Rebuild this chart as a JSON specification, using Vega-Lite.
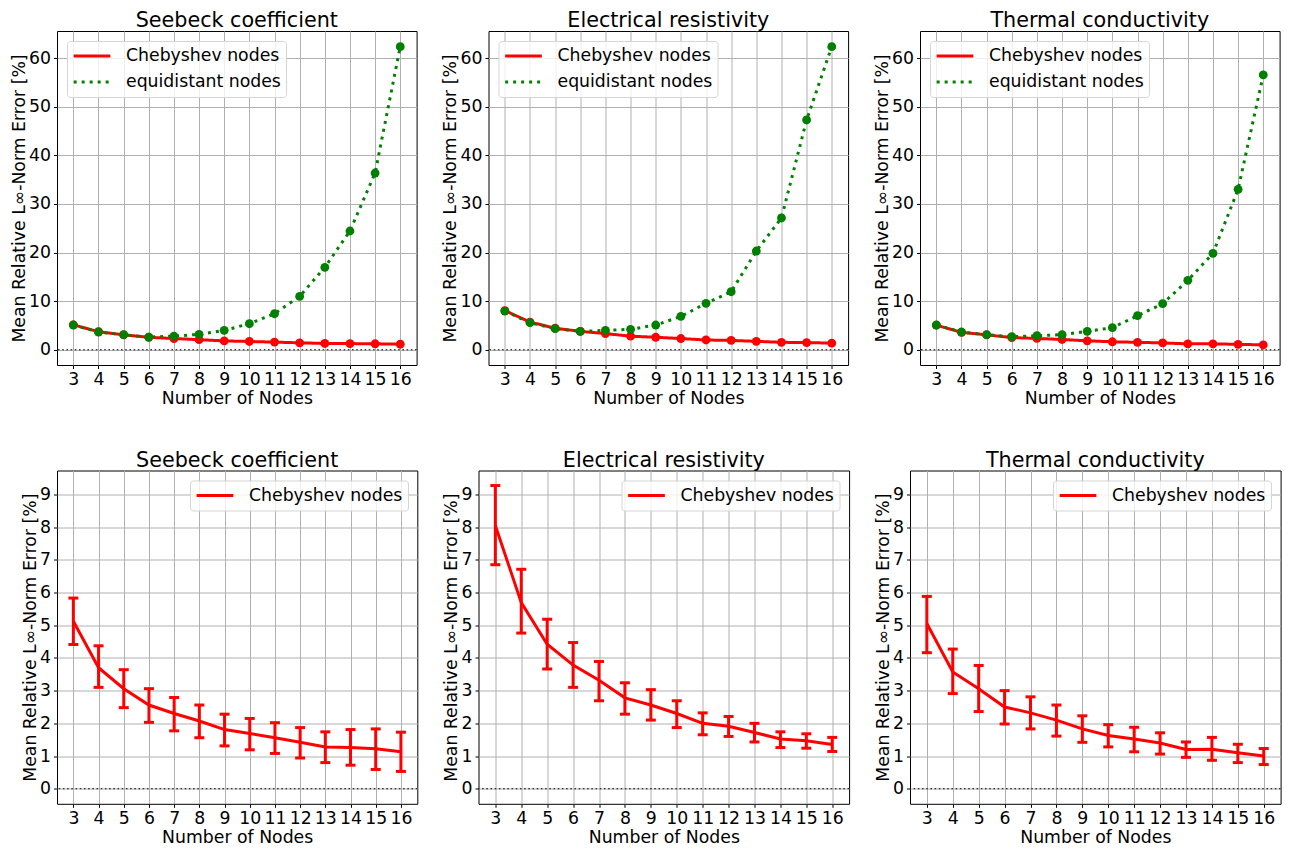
{
  "$schema": "https://vega.github.io/schema/vega-lite/v6.json",
  "padding": {"left": 9, "top": 9, "right": 5, "bottom": 5},
  "background": "white",
  "datasets": {
    "d": [
      {"p":"S","n":3,"s":"Chebyshev nodes","v":5.12,"lo":4.41,"hi":5.83},
      {"p":"S","n":4,"s":"Chebyshev nodes","v":3.70,"lo":3.10,"hi":4.37},
      {"p":"S","n":5,"s":"Chebyshev nodes","v":3.06,"lo":2.48,"hi":3.64},
      {"p":"S","n":6,"s":"Chebyshev nodes","v":2.56,"lo":2.03,"hi":3.06},
      {"p":"S","n":7,"s":"Chebyshev nodes","v":2.30,"lo":1.77,"hi":2.79},
      {"p":"S","n":8,"s":"Chebyshev nodes","v":2.07,"lo":1.56,"hi":2.56},
      {"p":"S","n":9,"s":"Chebyshev nodes","v":1.81,"lo":1.31,"hi":2.28},
      {"p":"S","n":10,"s":"Chebyshev nodes","v":1.69,"lo":1.19,"hi":2.15},
      {"p":"S","n":11,"s":"Chebyshev nodes","v":1.56,"lo":1.08,"hi":2.02},
      {"p":"S","n":12,"s":"Chebyshev nodes","v":1.42,"lo":0.94,"hi":1.87},
      {"p":"S","n":13,"s":"Chebyshev nodes","v":1.28,"lo":0.80,"hi":1.74},
      {"p":"S","n":14,"s":"Chebyshev nodes","v":1.26,"lo":0.72,"hi":1.81},
      {"p":"S","n":15,"s":"Chebyshev nodes","v":1.22,"lo":0.59,"hi":1.83},
      {"p":"S","n":16,"s":"Chebyshev nodes","v":1.13,"lo":0.53,"hi":1.73},
      {"p":"S","n":3,"s":"equidistant nodes","v":5.08},
      {"p":"S","n":4,"s":"equidistant nodes","v":3.64},
      {"p":"S","n":5,"s":"equidistant nodes","v":3.09},
      {"p":"S","n":6,"s":"equidistant nodes","v":2.60},
      {"p":"S","n":7,"s":"equidistant nodes","v":2.80},
      {"p":"S","n":8,"s":"equidistant nodes","v":3.16},
      {"p":"S","n":9,"s":"equidistant nodes","v":3.98},
      {"p":"S","n":10,"s":"equidistant nodes","v":5.35},
      {"p":"S","n":11,"s":"equidistant nodes","v":7.41},
      {"p":"S","n":12,"s":"equidistant nodes","v":10.98},
      {"p":"S","n":13,"s":"equidistant nodes","v":16.96},
      {"p":"S","n":14,"s":"equidistant nodes","v":24.44},
      {"p":"S","n":15,"s":"equidistant nodes","v":36.38},
      {"p":"S","n":16,"s":"equidistant nodes","v":62.4},
      {"p":"E","n":3,"s":"Chebyshev nodes","v":8.05,"lo":6.85,"hi":9.27},
      {"p":"E","n":4,"s":"Chebyshev nodes","v":5.69,"lo":4.76,"hi":6.71},
      {"p":"E","n":5,"s":"Chebyshev nodes","v":4.42,"lo":3.66,"hi":5.18},
      {"p":"E","n":6,"s":"Chebyshev nodes","v":3.78,"lo":3.10,"hi":4.47},
      {"p":"E","n":7,"s":"Chebyshev nodes","v":3.32,"lo":2.69,"hi":3.89},
      {"p":"E","n":8,"s":"Chebyshev nodes","v":2.78,"lo":2.28,"hi":3.24},
      {"p":"E","n":9,"s":"Chebyshev nodes","v":2.56,"lo":2.10,"hi":3.03},
      {"p":"E","n":10,"s":"Chebyshev nodes","v":2.30,"lo":1.87,"hi":2.69},
      {"p":"E","n":11,"s":"Chebyshev nodes","v":2.00,"lo":1.65,"hi":2.32},
      {"p":"E","n":12,"s":"Chebyshev nodes","v":1.91,"lo":1.60,"hi":2.21},
      {"p":"E","n":13,"s":"Chebyshev nodes","v":1.72,"lo":1.43,"hi":2.00},
      {"p":"E","n":14,"s":"Chebyshev nodes","v":1.52,"lo":1.26,"hi":1.74},
      {"p":"E","n":15,"s":"Chebyshev nodes","v":1.47,"lo":1.24,"hi":1.68},
      {"p":"E","n":16,"s":"Chebyshev nodes","v":1.35,"lo":1.14,"hi":1.57},
      {"p":"E","n":3,"s":"equidistant nodes","v":7.96},
      {"p":"E","n":4,"s":"equidistant nodes","v":5.56},
      {"p":"E","n":5,"s":"equidistant nodes","v":4.32},
      {"p":"E","n":6,"s":"equidistant nodes","v":3.78},
      {"p":"E","n":7,"s":"equidistant nodes","v":3.98},
      {"p":"E","n":8,"s":"equidistant nodes","v":4.19},
      {"p":"E","n":9,"s":"equidistant nodes","v":5.08},
      {"p":"E","n":10,"s":"equidistant nodes","v":6.86},
      {"p":"E","n":11,"s":"equidistant nodes","v":9.54},
      {"p":"E","n":12,"s":"equidistant nodes","v":11.94},
      {"p":"E","n":13,"s":"equidistant nodes","v":20.32},
      {"p":"E","n":14,"s":"equidistant nodes","v":27.12},
      {"p":"E","n":15,"s":"equidistant nodes","v":47.3},
      {"p":"E","n":16,"s":"equidistant nodes","v":62.4},
      {"p":"T","n":3,"s":"Chebyshev nodes","v":5.05,"lo":4.16,"hi":5.88},
      {"p":"T","n":4,"s":"Chebyshev nodes","v":3.57,"lo":2.91,"hi":4.27},
      {"p":"T","n":5,"s":"Chebyshev nodes","v":3.06,"lo":2.36,"hi":3.77},
      {"p":"T","n":6,"s":"Chebyshev nodes","v":2.50,"lo":1.98,"hi":3.00},
      {"p":"T","n":7,"s":"Chebyshev nodes","v":2.32,"lo":1.83,"hi":2.81},
      {"p":"T","n":8,"s":"Chebyshev nodes","v":2.10,"lo":1.61,"hi":2.56},
      {"p":"T","n":9,"s":"Chebyshev nodes","v":1.83,"lo":1.42,"hi":2.23},
      {"p":"T","n":10,"s":"Chebyshev nodes","v":1.63,"lo":1.28,"hi":1.96},
      {"p":"T","n":11,"s":"Chebyshev nodes","v":1.52,"lo":1.13,"hi":1.88},
      {"p":"T","n":12,"s":"Chebyshev nodes","v":1.40,"lo":1.06,"hi":1.71},
      {"p":"T","n":13,"s":"Chebyshev nodes","v":1.20,"lo":0.96,"hi":1.43},
      {"p":"T","n":14,"s":"Chebyshev nodes","v":1.21,"lo":0.87,"hi":1.57},
      {"p":"T","n":15,"s":"Chebyshev nodes","v":1.10,"lo":0.80,"hi":1.36},
      {"p":"T","n":16,"s":"Chebyshev nodes","v":1.00,"lo":0.74,"hi":1.23},
      {"p":"T","n":3,"s":"equidistant nodes","v":5.08},
      {"p":"T","n":4,"s":"equidistant nodes","v":3.64},
      {"p":"T","n":5,"s":"equidistant nodes","v":3.09},
      {"p":"T","n":6,"s":"equidistant nodes","v":2.68},
      {"p":"T","n":7,"s":"equidistant nodes","v":2.88},
      {"p":"T","n":8,"s":"equidistant nodes","v":3.09},
      {"p":"T","n":9,"s":"equidistant nodes","v":3.78},
      {"p":"T","n":10,"s":"equidistant nodes","v":4.53},
      {"p":"T","n":11,"s":"equidistant nodes","v":7.00},
      {"p":"T","n":12,"s":"equidistant nodes","v":9.47},
      {"p":"T","n":13,"s":"equidistant nodes","v":14.28},
      {"p":"T","n":14,"s":"equidistant nodes","v":19.84},
      {"p":"T","n":15,"s":"equidistant nodes","v":33.02},
      {"p":"T","n":16,"s":"equidistant nodes","v":56.57}
    ]
  },
  "vconcat": [
    {
      "hconcat": [
        {
          "width": 359.6, "height": 334,
          "title": {"text": "Seebeck coefficient", "offset": -1},
          "layer": [
            {"data": {"values": [{"z": 0}]}, "mark": {"type": "rule", "color": "black", "strokeWidth": 1.1, "strokeDash": [1.6, 2.6]},
             "encoding": {"y": {"field": "z", "type": "quantitative", "title": "Mean Relative L∞-Norm Error [%]", "scale": {"domain": [-3.15, 65.62], "nice": false, "zero": false}, "axis": {"values": [0,10,20,30,40,50,60], "labelOverlap": false}}}},
            {"data": {"name": "d"}, "transform": [{"filter": "datum.p === 'S'"}], "mark": {"type": "line", "strokeWidth": 3},
             "encoding": {
               "x": {"field": "n", "type": "quantitative", "title": "Number of Nodes", "scale": {"domain": [2.35, 16.65], "nice": false, "zero": false}, "axis": {"values": [3,4,5,6,7,8,9,10,11,12,13,14,15,16], "labelOverlap": false}},
               "y": {"field": "v", "type": "quantitative", "title": "Mean Relative L∞-Norm Error [%]", "scale": {"domain": [-3.15, 65.62], "nice": false, "zero": false}, "axis": {"values": [0,10,20,30,40,50,60], "labelOverlap": false}},
               "color": {"field": "s", "type": "nominal", "scale": {"domain": ["Chebyshev nodes", "equidistant nodes"], "range": ["#ff0000", "#008000"]}, "legend": {"orient": "top-left"}},
               "strokeDash": {"field": "s", "type": "nominal", "scale": {"domain": ["Chebyshev nodes", "equidistant nodes"], "range": [[1, 0], [3, 5]]}, "legend": {"orient": "top-left"}}
             }},
            {"data": {"name": "d"}, "transform": [{"filter": "datum.p === 'S'"}], "mark": {"type": "point", "filled": true, "size": 78, "opacity": 1},
             "encoding": {
               "x": {"field": "n", "type": "quantitative", "title": "Number of Nodes", "scale": {"domain": [2.35, 16.65], "nice": false, "zero": false}, "axis": {"values": [3,4,5,6,7,8,9,10,11,12,13,14,15,16], "labelOverlap": false}},
               "y": {"field": "v", "type": "quantitative", "title": "Mean Relative L∞-Norm Error [%]", "scale": {"domain": [-3.15, 65.62], "nice": false, "zero": false}, "axis": {"values": [0,10,20,30,40,50,60], "labelOverlap": false}},
               "color": {"field": "s", "type": "nominal", "scale": {"domain": ["Chebyshev nodes", "equidistant nodes"], "range": ["#ff0000", "#008000"]}, "legend": {"orient": "top-left"}}
             }}
          ]
        },
        {
          "width": 359.6, "height": 334,
          "title": {"text": "Electrical resistivity", "offset": -1},
          "layer": [
            {"data": {"values": [{"z": 0}]}, "mark": {"type": "rule", "color": "black", "strokeWidth": 1.1, "strokeDash": [1.6, 2.6]},
             "encoding": {"y": {"field": "z", "type": "quantitative", "title": "Mean Relative L∞-Norm Error [%]", "scale": {"domain": [-3.15, 65.62], "nice": false, "zero": false}, "axis": {"values": [0,10,20,30,40,50,60], "labelOverlap": false}}}},
            {"data": {"name": "d"}, "transform": [{"filter": "datum.p === 'E'"}], "mark": {"type": "line", "strokeWidth": 3},
             "encoding": {
               "x": {"field": "n", "type": "quantitative", "title": "Number of Nodes", "scale": {"domain": [2.35, 16.65], "nice": false, "zero": false}, "axis": {"values": [3,4,5,6,7,8,9,10,11,12,13,14,15,16], "labelOverlap": false}},
               "y": {"field": "v", "type": "quantitative", "title": "Mean Relative L∞-Norm Error [%]", "scale": {"domain": [-3.15, 65.62], "nice": false, "zero": false}, "axis": {"values": [0,10,20,30,40,50,60], "labelOverlap": false}},
               "color": {"field": "s", "type": "nominal", "scale": {"domain": ["Chebyshev nodes", "equidistant nodes"], "range": ["#ff0000", "#008000"]}, "legend": {"orient": "top-left"}},
               "strokeDash": {"field": "s", "type": "nominal", "scale": {"domain": ["Chebyshev nodes", "equidistant nodes"], "range": [[1, 0], [3, 5]]}, "legend": {"orient": "top-left"}}
             }},
            {"data": {"name": "d"}, "transform": [{"filter": "datum.p === 'E'"}], "mark": {"type": "point", "filled": true, "size": 78, "opacity": 1},
             "encoding": {
               "x": {"field": "n", "type": "quantitative", "title": "Number of Nodes", "scale": {"domain": [2.35, 16.65], "nice": false, "zero": false}, "axis": {"values": [3,4,5,6,7,8,9,10,11,12,13,14,15,16], "labelOverlap": false}},
               "y": {"field": "v", "type": "quantitative", "title": "Mean Relative L∞-Norm Error [%]", "scale": {"domain": [-3.15, 65.62], "nice": false, "zero": false}, "axis": {"values": [0,10,20,30,40,50,60], "labelOverlap": false}},
               "color": {"field": "s", "type": "nominal", "scale": {"domain": ["Chebyshev nodes", "equidistant nodes"], "range": ["#ff0000", "#008000"]}, "legend": {"orient": "top-left"}}
             }}
          ]
        },
        {
          "width": 359.6, "height": 334,
          "title": {"text": "Thermal conductivity", "offset": -1},
          "layer": [
            {"data": {"values": [{"z": 0}]}, "mark": {"type": "rule", "color": "black", "strokeWidth": 1.1, "strokeDash": [1.6, 2.6]},
             "encoding": {"y": {"field": "z", "type": "quantitative", "title": "Mean Relative L∞-Norm Error [%]", "scale": {"domain": [-3.15, 65.62], "nice": false, "zero": false}, "axis": {"values": [0,10,20,30,40,50,60], "labelOverlap": false}}}},
            {"data": {"name": "d"}, "transform": [{"filter": "datum.p === 'T'"}], "mark": {"type": "line", "strokeWidth": 3},
             "encoding": {
               "x": {"field": "n", "type": "quantitative", "title": "Number of Nodes", "scale": {"domain": [2.35, 16.65], "nice": false, "zero": false}, "axis": {"values": [3,4,5,6,7,8,9,10,11,12,13,14,15,16], "labelOverlap": false}},
               "y": {"field": "v", "type": "quantitative", "title": "Mean Relative L∞-Norm Error [%]", "scale": {"domain": [-3.15, 65.62], "nice": false, "zero": false}, "axis": {"values": [0,10,20,30,40,50,60], "labelOverlap": false}},
               "color": {"field": "s", "type": "nominal", "scale": {"domain": ["Chebyshev nodes", "equidistant nodes"], "range": ["#ff0000", "#008000"]}, "legend": {"orient": "top-left"}},
               "strokeDash": {"field": "s", "type": "nominal", "scale": {"domain": ["Chebyshev nodes", "equidistant nodes"], "range": [[1, 0], [3, 5]]}, "legend": {"orient": "top-left"}}
             }},
            {"data": {"name": "d"}, "transform": [{"filter": "datum.p === 'T'"}], "mark": {"type": "point", "filled": true, "size": 78, "opacity": 1},
             "encoding": {
               "x": {"field": "n", "type": "quantitative", "title": "Number of Nodes", "scale": {"domain": [2.35, 16.65], "nice": false, "zero": false}, "axis": {"values": [3,4,5,6,7,8,9,10,11,12,13,14,15,16], "labelOverlap": false}},
               "y": {"field": "v", "type": "quantitative", "title": "Mean Relative L∞-Norm Error [%]", "scale": {"domain": [-3.15, 65.62], "nice": false, "zero": false}, "axis": {"values": [0,10,20,30,40,50,60], "labelOverlap": false}},
               "color": {"field": "s", "type": "nominal", "scale": {"domain": ["Chebyshev nodes", "equidistant nodes"], "range": ["#ff0000", "#008000"]}, "legend": {"orient": "top-left"}}
             }}
          ]
        }
      ],
      "spacing": 22.5,
      "resolve": {"scale": {"color": "independent", "strokeDash": "independent"}, "legend": {"color": "independent", "strokeDash": "independent"}}
    },
    {
      "hconcat": [
        {
          "width": 360.3, "height": 333.3,
          "title": {"text": "Seebeck coefficient", "offset": -1},
          "layer": [
            {"data": {"values": [{"z": 0}]}, "mark": {"type": "rule", "color": "black", "strokeWidth": 1.1, "strokeDash": [1.6, 2.6]},
             "encoding": {"y": {"field": "z", "type": "quantitative", "title": "Mean Relative L∞-Norm Error [%]", "scale": {"domain": [-0.46, 9.73], "nice": false, "zero": false}, "axis": {"values": [0,1,2,3,4,5,6,7,8,9], "labelOverlap": false}}}},
            {"data": {"name": "d"}, "transform": [{"filter": "datum.p === 'S' && datum.s === 'Chebyshev nodes'"}], "mark": {"type": "rule", "color": "#ff0000", "strokeWidth": 3},
             "encoding": {
               "x": {"field": "n", "type": "quantitative", "title": "Number of Nodes", "scale": {"domain": [2.35, 16.65], "nice": false, "zero": false}, "axis": {"values": [3,4,5,6,7,8,9,10,11,12,13,14,15,16], "labelOverlap": false}},
               "y": {"field": "lo", "type": "quantitative", "title": "Mean Relative L∞-Norm Error [%]", "scale": {"domain": [-0.46, 9.73], "nice": false, "zero": false}, "axis": {"values": [0,1,2,3,4,5,6,7,8,9], "labelOverlap": false}},
               "y2": {"field": "hi"}
             }},
            {"data": {"name": "d"}, "transform": [{"filter": "datum.p === 'S' && datum.s === 'Chebyshev nodes'"}], "mark": {"type": "tick", "orient": "horizontal", "color": "#ff0000", "size": 10, "thickness": 3, "opacity": 1},
             "encoding": {
               "x": {"field": "n", "type": "quantitative", "title": "Number of Nodes", "scale": {"domain": [2.35, 16.65], "nice": false, "zero": false}, "axis": {"values": [3,4,5,6,7,8,9,10,11,12,13,14,15,16], "labelOverlap": false}},
               "y": {"field": "lo", "type": "quantitative", "title": "Mean Relative L∞-Norm Error [%]", "scale": {"domain": [-0.46, 9.73], "nice": false, "zero": false}, "axis": {"values": [0,1,2,3,4,5,6,7,8,9], "labelOverlap": false}}
             }},
            {"data": {"name": "d"}, "transform": [{"filter": "datum.p === 'S' && datum.s === 'Chebyshev nodes'"}], "mark": {"type": "tick", "orient": "horizontal", "color": "#ff0000", "size": 10, "thickness": 3, "opacity": 1},
             "encoding": {
               "x": {"field": "n", "type": "quantitative", "title": "Number of Nodes", "scale": {"domain": [2.35, 16.65], "nice": false, "zero": false}, "axis": {"values": [3,4,5,6,7,8,9,10,11,12,13,14,15,16], "labelOverlap": false}},
               "y": {"field": "hi", "type": "quantitative", "title": "Mean Relative L∞-Norm Error [%]", "scale": {"domain": [-0.46, 9.73], "nice": false, "zero": false}, "axis": {"values": [0,1,2,3,4,5,6,7,8,9], "labelOverlap": false}}
             }},
            {"data": {"name": "d"}, "transform": [{"filter": "datum.p === 'S' && datum.s === 'Chebyshev nodes'"}], "mark": {"type": "line", "strokeWidth": 3},
             "encoding": {
               "x": {"field": "n", "type": "quantitative", "title": "Number of Nodes", "scale": {"domain": [2.35, 16.65], "nice": false, "zero": false}, "axis": {"values": [3,4,5,6,7,8,9,10,11,12,13,14,15,16], "labelOverlap": false}},
               "y": {"field": "v", "type": "quantitative", "title": "Mean Relative L∞-Norm Error [%]", "scale": {"domain": [-0.46, 9.73], "nice": false, "zero": false}, "axis": {"values": [0,1,2,3,4,5,6,7,8,9], "labelOverlap": false}},
               "color": {"field": "s", "type": "nominal", "scale": {"domain": ["Chebyshev nodes"], "range": ["#ff0000"]}, "legend": {"orient": "top-right"}}
             }}
          ]
        },
        {
          "width": 370.6, "height": 333.3,
          "title": {"text": "Electrical resistivity", "offset": -1},
          "layer": [
            {"data": {"values": [{"z": 0}]}, "mark": {"type": "rule", "color": "black", "strokeWidth": 1.1, "strokeDash": [1.6, 2.6]},
             "encoding": {"y": {"field": "z", "type": "quantitative", "title": "Mean Relative L∞-Norm Error [%]", "scale": {"domain": [-0.46, 9.73], "nice": false, "zero": false}, "axis": {"values": [0,1,2,3,4,5,6,7,8,9], "labelOverlap": false}}}},
            {"data": {"name": "d"}, "transform": [{"filter": "datum.p === 'E' && datum.s === 'Chebyshev nodes'"}], "mark": {"type": "rule", "color": "#ff0000", "strokeWidth": 3},
             "encoding": {
               "x": {"field": "n", "type": "quantitative", "title": "Number of Nodes", "scale": {"domain": [2.35, 16.65], "nice": false, "zero": false}, "axis": {"values": [3,4,5,6,7,8,9,10,11,12,13,14,15,16], "labelOverlap": false}},
               "y": {"field": "lo", "type": "quantitative", "title": "Mean Relative L∞-Norm Error [%]", "scale": {"domain": [-0.46, 9.73], "nice": false, "zero": false}, "axis": {"values": [0,1,2,3,4,5,6,7,8,9], "labelOverlap": false}},
               "y2": {"field": "hi"}
             }},
            {"data": {"name": "d"}, "transform": [{"filter": "datum.p === 'E' && datum.s === 'Chebyshev nodes'"}], "mark": {"type": "tick", "orient": "horizontal", "color": "#ff0000", "size": 10, "thickness": 3, "opacity": 1},
             "encoding": {
               "x": {"field": "n", "type": "quantitative", "title": "Number of Nodes", "scale": {"domain": [2.35, 16.65], "nice": false, "zero": false}, "axis": {"values": [3,4,5,6,7,8,9,10,11,12,13,14,15,16], "labelOverlap": false}},
               "y": {"field": "lo", "type": "quantitative", "title": "Mean Relative L∞-Norm Error [%]", "scale": {"domain": [-0.46, 9.73], "nice": false, "zero": false}, "axis": {"values": [0,1,2,3,4,5,6,7,8,9], "labelOverlap": false}}
             }},
            {"data": {"name": "d"}, "transform": [{"filter": "datum.p === 'E' && datum.s === 'Chebyshev nodes'"}], "mark": {"type": "tick", "orient": "horizontal", "color": "#ff0000", "size": 10, "thickness": 3, "opacity": 1},
             "encoding": {
               "x": {"field": "n", "type": "quantitative", "title": "Number of Nodes", "scale": {"domain": [2.35, 16.65], "nice": false, "zero": false}, "axis": {"values": [3,4,5,6,7,8,9,10,11,12,13,14,15,16], "labelOverlap": false}},
               "y": {"field": "hi", "type": "quantitative", "title": "Mean Relative L∞-Norm Error [%]", "scale": {"domain": [-0.46, 9.73], "nice": false, "zero": false}, "axis": {"values": [0,1,2,3,4,5,6,7,8,9], "labelOverlap": false}}
             }},
            {"data": {"name": "d"}, "transform": [{"filter": "datum.p === 'E' && datum.s === 'Chebyshev nodes'"}], "mark": {"type": "line", "strokeWidth": 3},
             "encoding": {
               "x": {"field": "n", "type": "quantitative", "title": "Number of Nodes", "scale": {"domain": [2.35, 16.65], "nice": false, "zero": false}, "axis": {"values": [3,4,5,6,7,8,9,10,11,12,13,14,15,16], "labelOverlap": false}},
               "y": {"field": "v", "type": "quantitative", "title": "Mean Relative L∞-Norm Error [%]", "scale": {"domain": [-0.46, 9.73], "nice": false, "zero": false}, "axis": {"values": [0,1,2,3,4,5,6,7,8,9], "labelOverlap": false}},
               "color": {"field": "s", "type": "nominal", "scale": {"domain": ["Chebyshev nodes"], "range": ["#ff0000"]}, "legend": {"orient": "top-right"}}
             }}
          ]
        },
        {
          "width": 370.6, "height": 333.3,
          "title": {"text": "Thermal conductivity", "offset": -1},
          "layer": [
            {"data": {"values": [{"z": 0}]}, "mark": {"type": "rule", "color": "black", "strokeWidth": 1.1, "strokeDash": [1.6, 2.6]},
             "encoding": {"y": {"field": "z", "type": "quantitative", "title": "Mean Relative L∞-Norm Error [%]", "scale": {"domain": [-0.46, 9.73], "nice": false, "zero": false}, "axis": {"values": [0,1,2,3,4,5,6,7,8,9], "labelOverlap": false}}}},
            {"data": {"name": "d"}, "transform": [{"filter": "datum.p === 'T' && datum.s === 'Chebyshev nodes'"}], "mark": {"type": "rule", "color": "#ff0000", "strokeWidth": 3},
             "encoding": {
               "x": {"field": "n", "type": "quantitative", "title": "Number of Nodes", "scale": {"domain": [2.35, 16.65], "nice": false, "zero": false}, "axis": {"values": [3,4,5,6,7,8,9,10,11,12,13,14,15,16], "labelOverlap": false}},
               "y": {"field": "lo", "type": "quantitative", "title": "Mean Relative L∞-Norm Error [%]", "scale": {"domain": [-0.46, 9.73], "nice": false, "zero": false}, "axis": {"values": [0,1,2,3,4,5,6,7,8,9], "labelOverlap": false}},
               "y2": {"field": "hi"}
             }},
            {"data": {"name": "d"}, "transform": [{"filter": "datum.p === 'T' && datum.s === 'Chebyshev nodes'"}], "mark": {"type": "tick", "orient": "horizontal", "color": "#ff0000", "size": 10, "thickness": 3, "opacity": 1},
             "encoding": {
               "x": {"field": "n", "type": "quantitative", "title": "Number of Nodes", "scale": {"domain": [2.35, 16.65], "nice": false, "zero": false}, "axis": {"values": [3,4,5,6,7,8,9,10,11,12,13,14,15,16], "labelOverlap": false}},
               "y": {"field": "lo", "type": "quantitative", "title": "Mean Relative L∞-Norm Error [%]", "scale": {"domain": [-0.46, 9.73], "nice": false, "zero": false}, "axis": {"values": [0,1,2,3,4,5,6,7,8,9], "labelOverlap": false}}
             }},
            {"data": {"name": "d"}, "transform": [{"filter": "datum.p === 'T' && datum.s === 'Chebyshev nodes'"}], "mark": {"type": "tick", "orient": "horizontal", "color": "#ff0000", "size": 10, "thickness": 3, "opacity": 1},
             "encoding": {
               "x": {"field": "n", "type": "quantitative", "title": "Number of Nodes", "scale": {"domain": [2.35, 16.65], "nice": false, "zero": false}, "axis": {"values": [3,4,5,6,7,8,9,10,11,12,13,14,15,16], "labelOverlap": false}},
               "y": {"field": "hi", "type": "quantitative", "title": "Mean Relative L∞-Norm Error [%]", "scale": {"domain": [-0.46, 9.73], "nice": false, "zero": false}, "axis": {"values": [0,1,2,3,4,5,6,7,8,9], "labelOverlap": false}}
             }},
            {"data": {"name": "d"}, "transform": [{"filter": "datum.p === 'T' && datum.s === 'Chebyshev nodes'"}], "mark": {"type": "line", "strokeWidth": 3},
             "encoding": {
               "x": {"field": "n", "type": "quantitative", "title": "Number of Nodes", "scale": {"domain": [2.35, 16.65], "nice": false, "zero": false}, "axis": {"values": [3,4,5,6,7,8,9,10,11,12,13,14,15,16], "labelOverlap": false}},
               "y": {"field": "v", "type": "quantitative", "title": "Mean Relative L∞-Norm Error [%]", "scale": {"domain": [-0.46, 9.73], "nice": false, "zero": false}, "axis": {"values": [0,1,2,3,4,5,6,7,8,9], "labelOverlap": false}},
               "color": {"field": "s", "type": "nominal", "scale": {"domain": ["Chebyshev nodes"], "range": ["#ff0000"]}, "legend": {"orient": "top-right"}}
             }}
          ]
        }
      ],
      "spacing": 22.5,
      "resolve": {"scale": {"color": "independent", "strokeDash": "independent"}, "legend": {"color": "independent", "strokeDash": "independent"}}
    }
  ],
  "spacing": 40.5,
  "resolve": {"scale": {"color": "independent", "strokeDash": "independent"}, "legend": {"color": "independent", "strokeDash": "independent"}},
  "config": {
    "font": "DejaVu Sans",
    "view": {"stroke": "black", "strokeWidth": 1},
    "axis": {
      "grid": true, "gridColor": "#b0b0b0", "gridWidth": 1, "domain": false,
      "tickColor": "black", "tickSize": 3.5, "tickWidth": 1,
      "labelFont": "DejaVu Sans", "labelFontSize": 17.3, "labelColor": "black",
      "titleFont": "DejaVu Sans", "titleFontSize": 17.3, "titleFontWeight": "normal", "titleColor": "black",
      "labelFlush": false, "labelOverlap": false
    },
    "axisX": {"labelPadding": 2, "titlePadding": 2},
    "axisY": {"labelPadding": 3, "titlePadding": 0.5},
    "legend": {
      "title": null, "symbolType": "stroke", "symbolSize": 1347, "symbolStrokeWidth": 3,
      "labelFont": "DejaVu Sans", "labelFontSize": 17.3, "labelColor": "black", "labelOffset": 14, "labelLimit": 400,
      "padding": 5, "rowPadding": 6, "clipHeight": 20, "offset": 9.5,
      "strokeColor": "#d5d5d5", "fillColor": "rgba(255,255,255,0.8)", "cornerRadius": 3
    },
    "title": {"font": "DejaVu Sans", "fontSize": 20.7, "fontWeight": "normal", "color": "black", "frame": "group", "anchor": "middle"}
  }
}
